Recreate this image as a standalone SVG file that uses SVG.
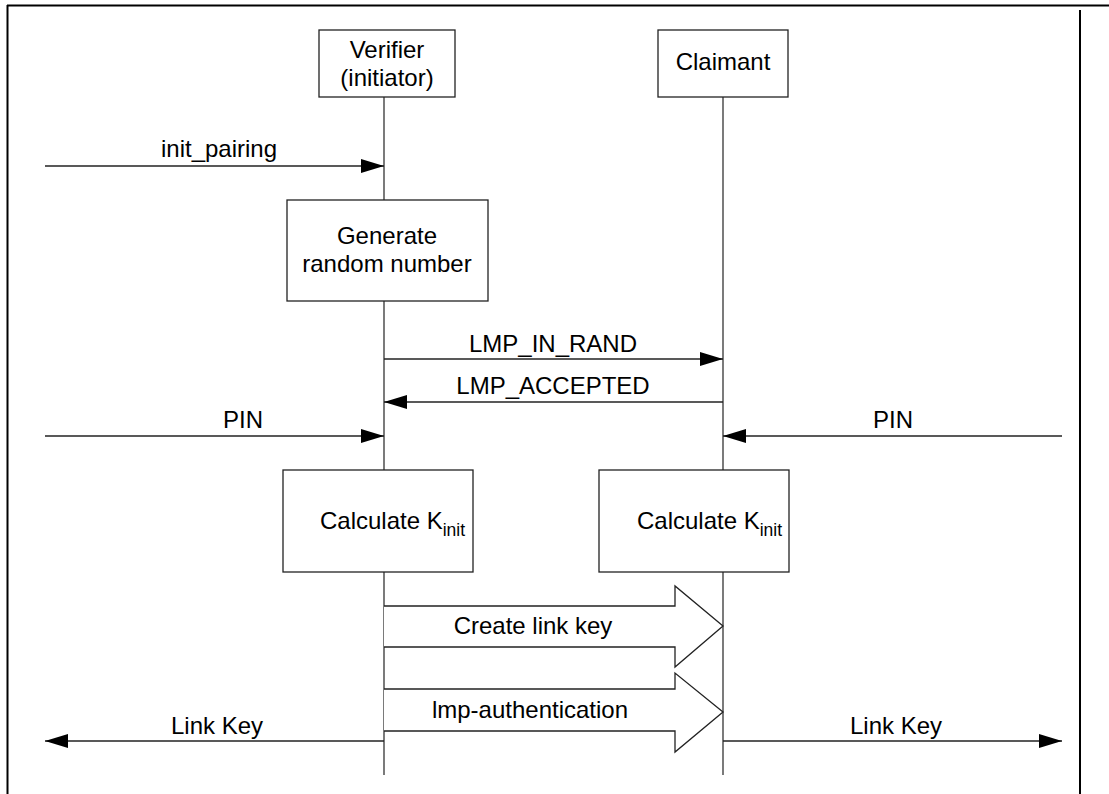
<svg xmlns="http://www.w3.org/2000/svg" width="1109" height="794" viewBox="0 0 1109 794">
<defs>
<style>
.t{font-family:"Liberation Sans",Arial,sans-serif;font-size:24px;fill:#000}
.sub{font-size:17.5px}
.box{fill:#fff;stroke:#222;stroke-width:1.3}
.life{stroke:#333;stroke-width:1.3;fill:none}
.msg{stroke:#222;stroke-width:1.3;fill:none;marker-end:url(#ah)}
.blk{fill:#fff;stroke:#222;stroke-width:1.3}
.frame{stroke:#000;stroke-width:2;fill:none}
</style>
<marker id="ah" markerUnits="userSpaceOnUse" viewBox="0 0 23 14" markerWidth="23" markerHeight="14" refX="23" refY="7" orient="auto">
<path d="M0,0 L23,7 L0,14 Z" fill="#000"/>
</marker>
</defs>
<rect width="1109" height="794" fill="#fff"/>
<g id="frame">
<line class="frame" x1="7" y1="5.5" x2="1109" y2="5.5"/>
<line class="frame" x1="7.5" y1="5" x2="7.5" y2="794"/>
<line class="frame" x1="1080" y1="10" x2="1080" y2="794"/>
</g>
<g id="connectors">
<line class="life" x1="384" y1="97" x2="384" y2="200"/>
<line class="life" x1="384" y1="301" x2="384" y2="470"/>
<line class="life" x1="384" y1="572" x2="384" y2="775"/>
<line class="life" x1="723" y1="97" x2="723" y2="470"/>
<line class="life" x1="723" y1="572" x2="723" y2="775"/>
<line class="msg" x1="45" y1="166" x2="384" y2="166"/>
<text class="t" x="219" y="157" text-anchor="middle">init_pairing</text>
<line class="msg" x1="384" y1="359" x2="723" y2="359"/>
<text class="t" x="553" y="352" text-anchor="middle">LMP_IN_RAND</text>
<line class="msg" x1="723" y1="402" x2="384" y2="402"/>
<text class="t" x="553" y="394" text-anchor="middle">LMP_ACCEPTED</text>
<line class="msg" x1="45" y1="436" x2="384" y2="436"/>
<text class="t" x="243" y="428" text-anchor="middle">PIN</text>
<line class="msg" x1="1062" y1="436" x2="723" y2="436"/>
<text class="t" x="893" y="428" text-anchor="middle">PIN</text>
<path class="blk" d="M384,606 L675,606 L675,586 L723,626 L675,667 L675,647 L384,647"/>
<text class="t" x="533" y="634" text-anchor="middle">Create link key</text>
<path class="blk" d="M384,689 L675,689 L675,673 L723,712 L675,752 L675,731 L384,731"/>
<text class="t" x="530" y="718" text-anchor="middle">lmp-authentication</text>
<line class="msg" x1="384" y1="741" x2="45" y2="741"/>
<text class="t" x="217" y="734" text-anchor="middle">Link Key</text>
<line class="msg" x1="723" y1="741" x2="1062" y2="741"/>
<text class="t" x="896" y="734" text-anchor="middle">Link Key</text>
</g>
<g id="verifier">
<rect class="box" x="319" y="30" width="136" height="67"/>
<text class="t" x="387" y="58" text-anchor="middle">Verifier</text>
<text class="t" x="387" y="86" text-anchor="middle">(initiator)</text>
</g>
<g id="claimant">
<rect class="box" x="658" y="30" width="130" height="67"/>
<text class="t" x="723" y="70" text-anchor="middle">Claimant</text>
</g>
<g id="generate">
<rect class="box" x="287" y="200" width="201" height="101"/>
<text class="t" x="387" y="244" text-anchor="middle">Generate</text>
<text class="t" x="387" y="272" text-anchor="middle">random number</text>
</g>
<g id="calc-verifier">
<rect class="box" x="283" y="470" width="190" height="102"/>
<text class="t" x="320" y="529">Calculate K<tspan class="sub" dy="7">init</tspan></text>
</g>
<g id="calc-claimant">
<rect class="box" x="599" y="470" width="190" height="102"/>
<text class="t" x="637" y="529">Calculate K<tspan class="sub" dy="7">init</tspan></text>
</g>
</svg>
